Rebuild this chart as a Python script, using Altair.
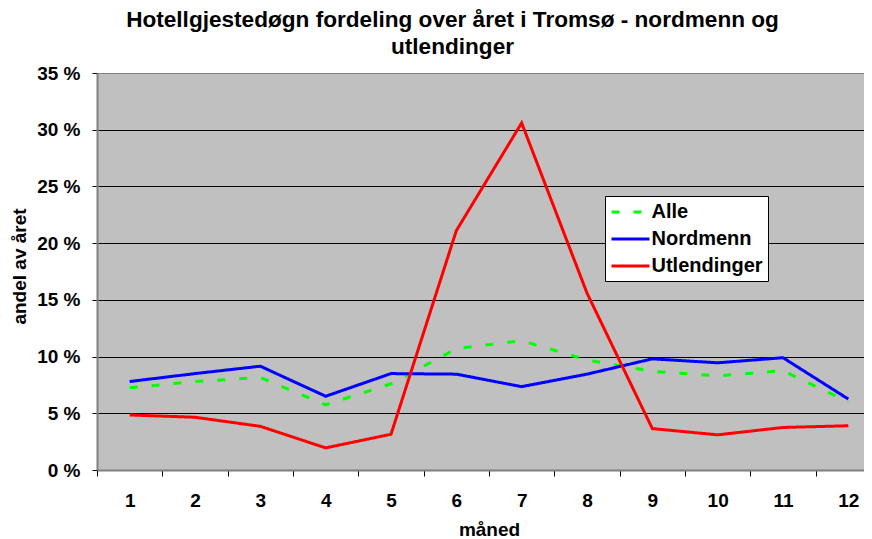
import altair as alt
import pandas as pd

months = [1, 2, 3, 4, 5, 6, 7, 8, 9, 10, 11, 12]
series_names = ["Alle", "Nordmenn", "Utlendinger"]
alle = [7.25, 7.8, 8.15, 5.75, 7.6, 10.7, 11.4, 9.7, 8.7, 8.3, 8.75, 6.0]
nordmenn = [7.8, 8.5, 9.15, 6.5, 8.5, 8.45, 7.35, 8.45, 9.8, 9.45, 9.9, 6.25]
utlendinger = [4.85, 4.65, 3.85, 1.95, 3.15, 21.1, 30.6, 15.6, 3.65, 3.1, 3.75, 3.9]
y_ticks = [0, 5, 10, 15, 20, 25, 30, 35]

# x axis: labels at month centres, ticks at the boundaries between months
x_axis_values = sorted(months + [m - 0.5 for m in months])

rows = []
for name, vals in zip(series_names, [alle, nordmenn, utlendinger]):
    for m, v in zip(months, vals):
        rows.append({"måned": m, "serie": name, "andel": v})
df = pd.DataFrame(rows)

FONT = "Liberation Sans"

legend_cfg = dict(title=None, orient="none", legendX=508, legendY=123,
                  fillColor="white", strokeColor="black", padding=5,
                  rowPadding=6, labelFontSize=20, labelFontWeight="bold",
                  labelFont=FONT, labelColor="black", symbolType="M-2,0H2",
                  symbolSize=361, symbolStrokeWidth=3, symbolOffset=9.5, labelOffset=10,
                  cornerRadius=0)

chart = alt.Chart(df).mark_line(strokeWidth=3).encode(
    x=alt.X("måned:Q",
            scale=alt.Scale(domain=[0.5, 12.24], nice=False, zero=False),
            axis=alt.Axis(title="måned", values=x_axis_values,
                          labelExpr="datum.value % 1 == 0 ? format(datum.value, 'd') : ''",
                          tickOpacity=alt.condition("datum.value % 1 == 0", alt.value(0), alt.value(1)),
                          labelAngle=0, labelOverlap=False, labelFlush=False, grid=False,
                          domainColor="#808080", domainWidth=2, tickColor="black", tickSize=6,
                          labelFontSize=19, labelFontWeight="bold", labelFont=FONT, labelColor="black",
                          labelPadding=15, titleFontSize=19, titleFontWeight="bold", titleFont=FONT,
                          titleColor="black", titleX=392, titleY=50, titleBaseline="top")),
    y=alt.Y("andel:Q",
            scale=alt.Scale(domain=[0, 35], nice=False, zero=True),
            axis=alt.Axis(title="andel av året", values=y_ticks, labelExpr="datum.value + ' %'",
                          grid=True,
                          gridColor=alt.condition("datum.value == 35", alt.value("#808080"), alt.value("black")),
                          gridWidth=1, domainColor="#808080", domainWidth=2, tickColor="black",
                          tickSize=5, labelFontSize=19, labelFontWeight="bold", labelFont=FONT,
                          labelColor="black", labelPadding=12, titleFontSize=19, titleFontWeight="bold",
                          titleFont=FONT, titleColor="black", titleAngle=270, titleX=-72, titleY=193,
                          titleBaseline="alphabetic", titleAlign="center")),
    color=alt.Color("serie:N",
                    scale=alt.Scale(domain=series_names, range=["#00FF00", "#0000FF", "#FF0000"]),
                    legend=alt.Legend(**legend_cfg)),
    strokeDash=alt.StrokeDash("serie:N",
                              scale=alt.Scale(domain=series_names, range=[[8, 14], [1, 0], [1, 0]]),
                              legend=alt.Legend(**legend_cfg)),
).properties(
    width=767,
    height=397,
    title=alt.Title(["Hotellgjestedøgn fordeling over året i Tromsø - nordmenn og", "utlendinger"],
                    fontSize=22.6, fontWeight="bold", font=FONT, color="black", anchor="middle",
                    dx=-28, lineHeight=27, offset=5),
    autosize=alt.AutoSizeParams(type="none"),
    padding={"left": 89, "top": 65, "right": 0, "bottom": 68},
    background="white",
).configure_view(
    fill="#C0C0C0", stroke=None
)

chart.save("out.html", embed_options={"renderer": "svg", "actions": False})
